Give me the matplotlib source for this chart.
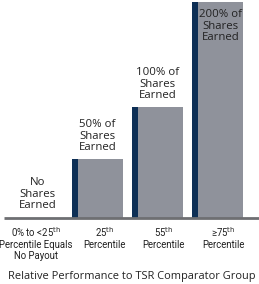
import matplotlib
matplotlib.use("Agg")
import matplotlib.pyplot as plt
import numpy as np

# payout levels (relative bar heights)
categories = ["0% to <25th", "25th", "55th", ">=75th"]
heights = [0, 58, 110, 215]
bar_texts = ["No\nShares\nEarned", "50% of\nShares\nEarned",
             "100% of\nShares\nEarned", "200% of\nShares\nEarned"]
tick_texts = ["0% to <25$^{\\rm th}$\nPercentile Equals\nNo Payout",
              "25$^{\\rm th}$\nPercentile",
              "55$^{\\rm th}$\nPercentile",
              "\u226575$^{\\rm th}$\nPercentile"]
title = "Relative Performance to TSR Comparator Group"

GRAY = "#8f929b"
NAVY = "#0d2f55"
TXT = "#222222"

W, H = 259, 284
fig = plt.figure(figsize=(W / 100, H / 100), dpi=100)
base = 217.5
ax = fig.add_axes([0, (H - base) / H, 1, (base - 2) / H])
step = 60.0
ax.set_xlim(-37.5 / step, (W - 37.5) / step)
ax.set_ylim(0, 215)
ax.axis("off")

x = np.arange(len(categories))
bw = 51 / step
sw = 6 / step
ax.bar(x, heights, bw, color=GRAY, linewidth=0)
ax.bar(x - bw / 2, heights, sw, align="edge", color=NAVY, linewidth=0)

# baseline
ax.plot([4 / step - 37.5 / step, (W - 37.5) / step], [0, 0], color="#6e6f72",
        lw=2, solid_capstyle="butt", clip_on=False)

fnt = "Open Sans"
for i, (h, t) in enumerate(zip(heights, bar_texts)):
    if i == len(heights) - 1:
        ax.text(i + 0.05, h - 7, t, ha="center", va="top", fontsize=8.2,
                family=fnt, color=TXT, linespacing=1.08)
    else:
        ax.text(i, h + 6, t, ha="center", va="bottom", fontsize=8.2,
                family=fnt, color=TXT, linespacing=1.08)

tick_off = [-0.03, 0.12, 0.1, 0.1]
for i, t in enumerate(tick_texts):
    ax.text(i + tick_off[i], -8, t, ha="center", va="top", fontsize=6.9,
            family="Roboto", color=TXT, linespacing=1.1,
            clip_on=False)

fig.text(132 / W, 1 - 276 / H, title, ha="center", va="center",
         fontsize=7.95, family=fnt, color=TXT)

fig.savefig("out.png", dpi=100)
